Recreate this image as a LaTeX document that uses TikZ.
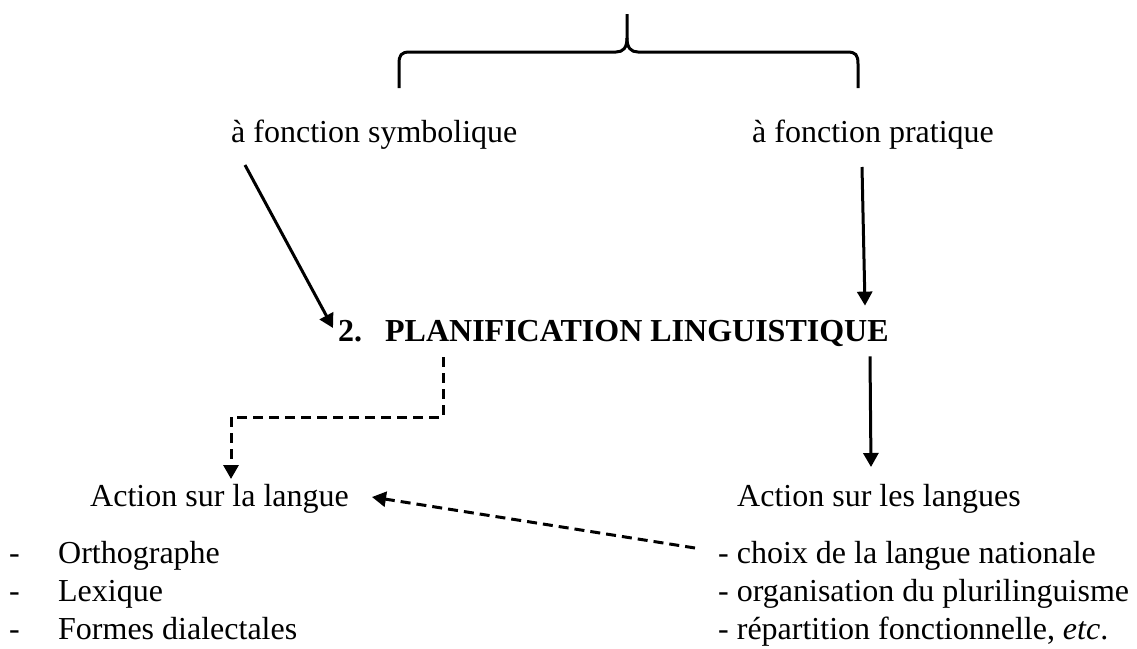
\documentclass[tikz,border=0pt]{standalone}
\usepackage{fontspec}
\setmainfont{Liberation Serif}
\usetikzlibrary{%
  calc,
  positioning,
  arrows.meta,
}

\begin{document}
\begin{tikzpicture}[x=1pt, y=-1pt,
    txt/.style={inner sep=0pt, anchor=base west,
      font=\fontsize{32}{38}\selectfont},
    pointer/.style={line width=3pt,
      -{Triangle[length=14pt,width=15pt]}},
    dashpointer/.style={pointer, dash pattern=on 10pt off 6pt},
  ]
  \useasboundingbox (0,0) rectangle (1137,648);
  % no units = px of the reference, y downwards

  \draw[line width=3pt] (399,88) -- (399,64)
    .. controls (399,55) and (401,52) .. (410,52) -- (616,52)
    .. controls (623,52) and (627,48) .. (627,38) -- (627,14);
  \draw[line width=3pt] (858,88) -- (858,64)
    .. controls (858,55) and (856,52) .. (847,52) -- (638,52)
    .. controls (631,52) and (627,48) .. (627,38);

  \node[txt] (sym) at (231,142) {à fonction symbolique};
  \node[txt] (pra) at (752,142) {à fonction pratique};

  \node[txt, font=\fontsize{32}{38}\selectfont\bfseries] (plan)
    at (338,341) {\makebox[47pt][l]{2.}PLANIFICATION LINGUISTIQUE};

  \node[txt] (lal) at (90,506) {Action sur la langue};
  \node[txt] (les) at (737,506) {Action sur les langues};

  \foreach \t [count=\i] in {Orthographe, Lexique, Formes dialectales}
    \node[txt] (l\i) at (9,525+38*\i) {\makebox[49pt][l]{-}\t};

  \foreach \t [count=\i] in {{- choix de la langue nationale},
      {- organisation du plurilinguisme},
      {- répartition fonctionnelle, \textit{etc}.}}
    \node[txt] (r\i) at (718,525+38*\i) {\t};

  \draw[pointer] ($(sym.base west)+(14,23)$)
    -- ($(plan.base west)+(-5,-13)$);
  \draw[pointer] ($(pra.base west)+(110,25)$)
    -- ($(pra.base west |- plan.north)+(113,-14)$);
  \draw[pointer] ($(les.base west |- plan.south)+(133,10)$)
    -- ($(les.base west)+(134,-39)$);

  \draw[dashpointer] ($(plan.base west)+(105,16)$)
    -- ++(0,60) -| ($(lal.base west)+(141,-27)$);
  \draw[dashpointer] ($(r1.base west)+(-23,-15)$)
    -- ($(lal.base east)+(23,-9)$);
\end{tikzpicture}
\end{document}
